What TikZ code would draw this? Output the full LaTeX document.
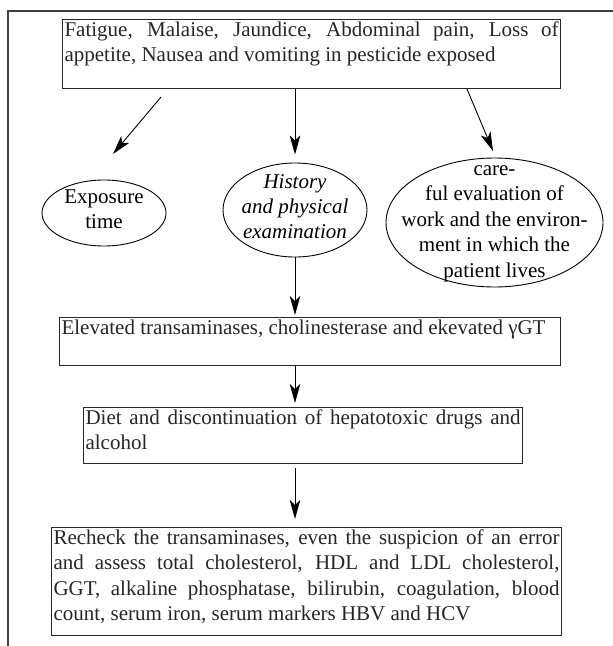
\documentclass[tikz,border=0pt]{standalone}
\usepackage{fontspec}
\setmainfont{Liberation Serif}
\usetikzlibrary{arrows.meta, shapes.geometric}

% top aligned, justified text of a box
\newcommand{\boxpar}[3]{\parbox[t][#2][t]{#1}{#3}}

\begin{document}
\begin{tikzpicture}[x=1pt, y=-1pt,
    font=\fontsize{21pt}{25.5pt}\selectfont,
    frame/.style={line width=1.6pt, black!75},
    stepbox/.style={draw, line width=1.1pt, black!85, anchor=north west, inner sep=2pt},
    oval/.style={draw, ellipse, line width=0.9pt, inner sep=0pt},
    ovaltext/.style={align=center, inner sep=0pt},
    flow/.style={-{Stealth[length=19pt, width=10.5pt, inset=5pt]}, line width=0.9pt}
]
\useasboundingbox (0,0) rectangle (613,646);
%
\draw[frame] (613,11) -- (8,11) -- (8,646);
%
\node[stepbox] (symptoms) at (62,19) {\boxpar{494pt}{65pt}{Fatigue, Malaise, Jaundice, Abdominal pain, Loss of\linebreak appetite, Nausea and vomiting in pesticide exposed}};
%
\node[oval, minimum width=124pt, minimum height=66pt] (exposure) at (104,213) {};
\node[ovaltext] (exposuretext) at ([yshift=4pt]exposure) {Exposure\\time};
\node[oval, minimum width=144pt, minimum height=94pt] (history) at (295,210) {};
\node[ovaltext, font=\fontsize{21pt}{25pt}\selectfont\itshape] (historytext) at ([yshift=3pt]history) {History\\and physical\\examination};
\node[oval, minimum width=217pt, minimum height=129pt] (careful) at (494.5,222.5) {};
\node[ovaltext] (carefultext) at ([yshift=-1pt]careful) {care-\\ful evaluation of\\work and the environ-\\ment in which the\\patient lives};
%
\node[stepbox] (elevated) at (59,317) {\boxpar{497pt}{44pt}{Elevated transaminases, cholinesterase and ekevated γGT}};
\node[stepbox] (diet) at (83,407) {\boxpar{435pt}{52pt}{Diet and discontinuation of hepatotoxic drugs and\linebreak alcohol}};
\node[stepbox] (recheck) at (51,527) {\boxpar{506pt}{104pt}{Recheck the transaminases, even the suspicion of an error\linebreak and assess total cholesterol, HDL and LDL cholesterol,\linebreak GGT, alkaline phosphatase, bilirubin, coagulation, blood\linebreak count, serum iron, serum markers HBV and HCV}};
%
\coordinate (ltail) at (161,97);
\coordinate (lhead) at (113,154);
\coordinate (rtail) at (467,89);
\coordinate (rhead) at (493,151);
\draw[flow] (ltail) -- (lhead);
\draw[flow] (symptoms.south -| history.north) -- ([yshift=8pt]history.north);
\draw[flow] (rtail) -- (rhead);
\draw[flow] (history.south) -- ([yshift=2pt]elevated.north -| history.south);
\draw[flow] (elevated.south -| history.south) -- ([yshift=4pt]diet.north -| history.south);
\draw[flow] ([yshift=-4pt]diet.south -| history.south) -- ([yshift=8pt]recheck.north -| history.south);
\end{tikzpicture}
\end{document}
